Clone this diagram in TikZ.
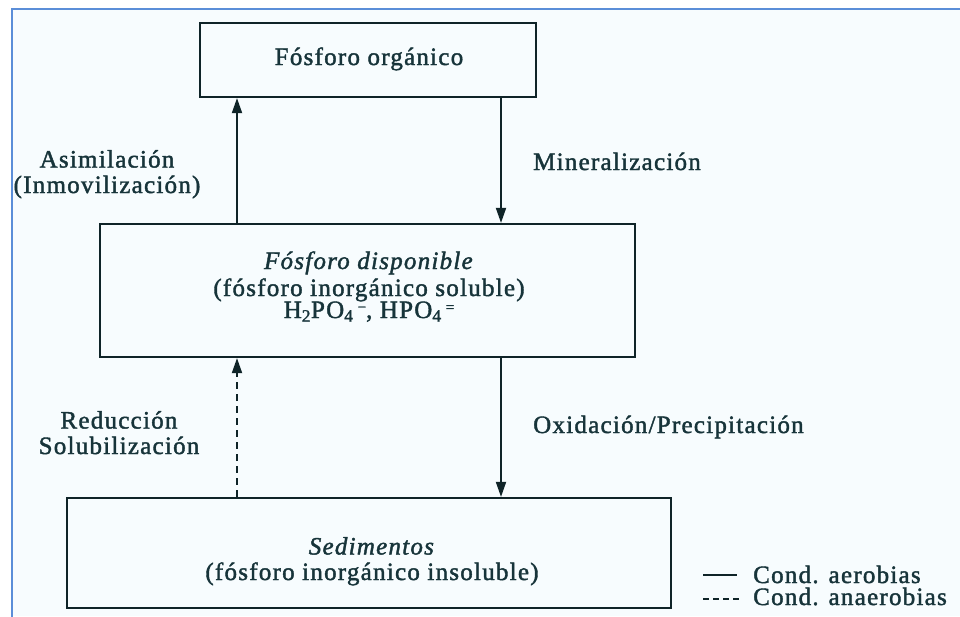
\documentclass[tikz,border=0pt]{standalone}
\usepackage{fontspec}
\setmainfont[LetterSpace=5,FakeBold=1.6]{Liberation Serif}
\usetikzlibrary{arrows.meta}
\definecolor{inkc}{HTML}{17343A}
\definecolor{linec}{HTML}{0F2428}
\definecolor{bluebd}{HTML}{5B8ED8}
\definecolor{paper}{HTML}{F7FCFE}
\newcommand{\supch}[1]{\,\raisebox{6pt}{\fontsize{15}{15}\selectfont #1}}
\newcommand{\tightlines}{\lineskiplimit=-100pt\relax}
\tikzset{
  boxn/.style={draw=linec, line width=2.2pt, inner sep=0pt, rectangle},
  lbl/.style={text=inkc, inner sep=0pt, font=\fontsize{25}{25.5}\selectfont, align=center},
  arr/.style={draw=linec, line width=1.8pt, -{Triangle[length=15pt,width=10pt]}},
  darr/.style={arr, dash pattern=on 7pt off 5pt},
}
\begin{document}
\begin{tikzpicture}[x=1pt,y=-1pt]
\useasboundingbox (0,0) rectangle (960,616);
\fill[white] (0,0) rectangle (960,616);
\fill[paper] (12,9) rectangle (960,616);
\draw[bluebd, line width=2pt] (12,620) -- (12,9) -- (964,9);

% boxes
\node[boxn, minimum width=336pt, minimum height=74pt] (org) at (368,60) {};
\node[boxn, minimum width=535pt, minimum height=133pt] (disp) at (367.5,290.5) {};
\node[boxn, minimum width=604pt, minimum height=110pt] (sed) at (369,553) {};

% box texts
\node[lbl, anchor=base, font=\fontsize{25}{27}\selectfont\tightlines] (dispt) at (369,318) {\textit{Fósforo disponible}\\(fósforo inorgánico soluble)\\[-5pt]H\textsubscript{2}PO\textsubscript{4}\supch{−}, HPO\textsubscript{4}\supch{=}};
\node[lbl, anchor=base] (orgt) at (369,65) {Fósforo orgánico};
\node[lbl, anchor=base] (sedt) at (372,580) {\textit{Sedimentos}\\(fósforo inorgánico insoluble)};

% connector x positions
\coordinate (xl) at (237,0);
\coordinate (xr) at (501,0);

\draw[arr] (disp.north -| xl) -- (org.south -| xl);
\draw[arr] (org.south -| xr) -- (disp.north -| xr);
\draw[darr] (sed.north -| xl) -- (disp.south -| xl);
\draw[arr] (disp.south -| xr) -- (sed.north -| xr);

% process labels
\node[lbl, anchor=base] (asim) at (107,193) {Asimilación\\(Inmovilización)};
\node[lbl, anchor=base west] (mine) at (533,170) {Mineralización};
\node[lbl, anchor=base] (redu) at (119,454) {Reducción\\Solubilización};
\node[lbl, anchor=base west] (oxid) at (533,433) {Oxidación/Precipitación};

% legend
\coordinate (la1) at (703,575);
\coordinate (lb1) at (737,575);
\coordinate (la2) at (703,599);
\coordinate (lb2) at (740,599);
\draw[linec, line width=1.8pt] (la1) -- (lb1);
\draw[linec, line width=1.8pt, dash pattern=on 6pt off 4pt] (la2) -- (lb2);
\node[lbl, anchor=base west] (leg1) at (753,583) {Cond. aerobias};
\node[lbl, anchor=base west] (leg2) at (753,605) {Cond. anaerobias};
\end{tikzpicture}
\end{document}
